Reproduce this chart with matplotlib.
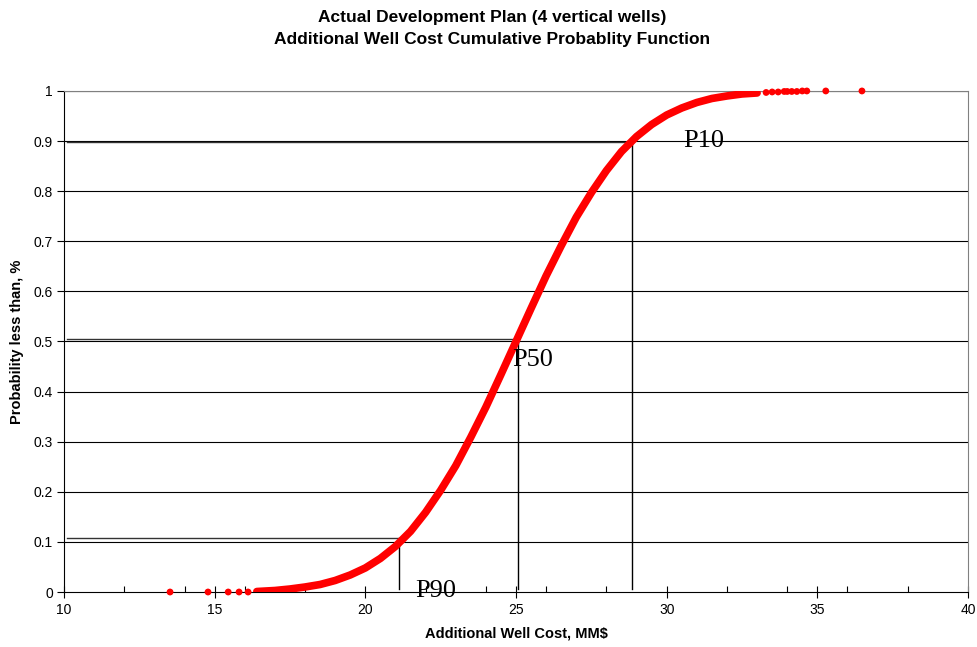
import numpy as np
import matplotlib
matplotlib.use('Agg')
import matplotlib.pyplot as plt
from matplotlib.ticker import MultipleLocator

# curve (cost MM$, cumulative probability)
cost = [16.4, 17.0, 17.5, 18.0, 18.5, 19.0, 19.5, 20.0, 20.5, 21.0, 21.5,
        22.0, 22.5, 23.0, 23.5, 24.0, 24.5, 25.0, 25.5, 26.0, 26.5, 27.0,
        27.5, 28.0, 28.5, 29.0, 29.5, 30.0, 30.5, 31.0, 31.5, 32.0, 32.5, 33.0]
prob = [0.001, 0.003, 0.006, 0.010, 0.015, 0.023, 0.034, 0.048, 0.067, 0.091, 0.121,
        0.159, 0.203, 0.252, 0.309, 0.369, 0.434, 0.500, 0.566, 0.631, 0.691, 0.748,
        0.797, 0.841, 0.879, 0.909, 0.933, 0.952, 0.966, 0.977, 0.985, 0.990, 0.994, 0.996]

# isolated points in the tails
tail_cost = [13.52, 14.78, 15.45, 15.81, 16.11, 33.3, 33.5, 33.7, 33.9, 34.0,
             34.15, 34.32, 34.5, 34.65, 35.28, 36.48]
tail_prob = [0.0, 0.0, 0.0, 0.0, 0.0, 0.997, 0.998, 0.998, 0.999, 0.999,
             0.999, 0.999, 1.0, 1.0, 1.0, 1.0]

# percentile markers
p_labels = ['P90', 'P50', 'P10']
p_cost = [21.13, 25.08, 28.84]
p_prob = [0.108, 0.505, 0.899]
p_text_x = [21.66, 24.88, 30.55]
p_text_y = [-0.01, 0.451, 0.888]

y_ticks = [0, 0.1, 0.2, 0.3, 0.4, 0.5, 0.6, 0.7, 0.8, 0.9, 1]
y_labels = ['0', '0.1', '0.2', '0.3', '0.4', '0.5', '0.6', '0.7', '0.8', '0.9', '1']
x_ticks = [10, 15, 20, 25, 30, 35, 40]

plt.rcParams['font.family'] = ['Liberation Sans', 'DejaVu Sans']

fig = plt.figure(figsize=(9.78, 6.47), dpi=100)
ax = fig.add_axes([0.0654, 0.085, 0.9244, 0.7744])

for y in y_ticks[1:]:
    ax.axhline(y, color='black', lw=0.8, zorder=1)

# percentile guide lines
for c, p in zip(p_cost, p_prob):
    ax.plot([10.1, c], [p, p], color='#333333', lw=1.0, zorder=2)
    ax.plot([c, c], [p, 0.006], color='black', lw=1.0, zorder=2)

ax.plot(cost, prob, color='red', lw=5.5, solid_capstyle='round', solid_joinstyle='round', zorder=3)
ax.scatter(tail_cost, tail_prob, s=24, color='red', edgecolors='none', zorder=3, clip_on=False)

for lab, tx, ty in zip(p_labels, p_text_x, p_text_y):
    ax.text(tx, ty, lab, fontsize=19, family='Liberation Serif', ha='left', va='baseline',
            zorder=4, clip_on=False)

ax.set_xlim(10, 40)
ax.set_ylim(0, 1)
ax.set_xticks(x_ticks)
ax.xaxis.set_minor_locator(MultipleLocator(2))
ax.set_yticks(y_ticks)
ax.set_yticklabels(y_labels)
ax.tick_params(axis='x', which='major', direction='inout', length=8, width=0.8, labelsize=10, pad=4)
ax.tick_params(axis='x', which='minor', direction='in', length=4, width=0.8)
ax.tick_params(axis='y', direction='out', length=5, width=0.8, labelsize=10, pad=3)

for s in ['top', 'right']:
    ax.spines[s].set_color('#808080')
for s in ['left', 'bottom']:
    ax.spines[s].set_color('black')

ax.set_xlabel('Additional Well Cost, MM$', fontsize=10.5, fontweight='bold', labelpad=7)
ax.set_ylabel('Probability less than, %', fontsize=10.5, fontweight='bold', labelpad=7)

fig.text(0.503, 0.9737, 'Actual Development Plan (4 vertical wells)', ha='center', va='center',
         fontsize=12.5, fontweight='bold')
fig.text(0.503, 0.9397, 'Additional Well Cost Cumulative Probablity Function', ha='center', va='center',
         fontsize=12.5, fontweight='bold')

fig.savefig('out.png', dpi=100)
